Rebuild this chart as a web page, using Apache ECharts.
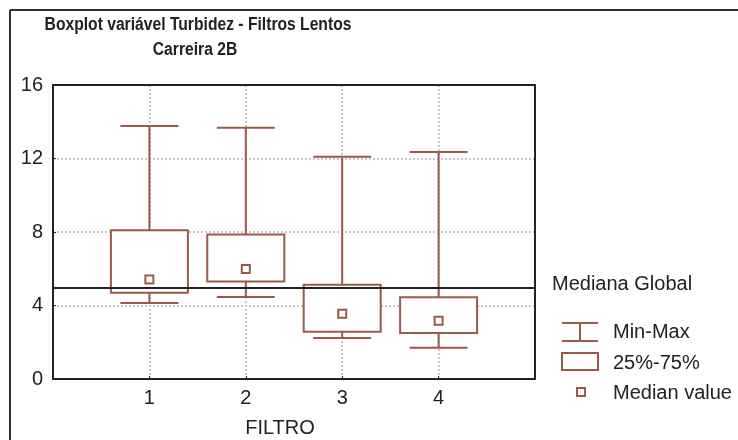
<!DOCTYPE html>
<html><head><meta charset="utf-8">
<script src="https://cdn.jsdelivr.net/npm/echarts@6/dist/echarts.min.js"></script>
<style>html,body{margin:0;padding:0;background:#fff}#c{width:738px;height:440px}</style>
</head><body><div id="c"></div>
<script>
var categories = ['', '1', '2', '3', '4', ''];
var filtros = [1, 2, 3, 4];
var mins = [4.14, 4.46, 2.23, 1.70];
var q1s = [4.70, 5.30, 2.57, 2.50];
var medians = [5.42, 5.99, 3.55, 3.17];
var q3s = [8.09, 7.87, 5.13, 4.45];
var maxs = [13.77, 13.68, 12.10, 12.35];
var globalMedian = 4.94;
var yTicks = [0, 4, 8, 12, 16];

var brown = '#9a5a4a';
var chart = echarts.init(document.getElementById('c'));
var boxData = filtros.map(function (f, i) { return [f, mins[i], q1s[i], medians[i], q3s[i], maxs[i]]; });
var medData = filtros.map(function (f, i) { return [f, medians[i]]; });

function renderBox(params, api) {
  var x = api.value(0);
  var pMin = api.coord([x, api.value(1)]);
  var pQ1 = api.coord([x, api.value(2)]);
  var pQ3 = api.coord([x, api.value(4)]);
  var pMax = api.coord([x, api.value(5)]);
  var bw = 77, cw = 58, cx = pMin[0];
  var st = { stroke: brown, lineWidth: 2, fill: null };
  return { type: 'group', children: [
    { type: 'line', shape: { x1: cx, y1: pMax[1], x2: cx, y2: pQ3[1] }, style: st },
    { type: 'line', shape: { x1: cx, y1: pQ1[1], x2: cx, y2: pMin[1] }, style: st },
    { type: 'line', shape: { x1: cx - cw / 2, y1: pMax[1], x2: cx + cw / 2, y2: pMax[1] }, style: st },
    { type: 'line', shape: { x1: cx - cw / 2, y1: pMin[1], x2: cx + cw / 2, y2: pMin[1] }, style: st },
    { type: 'rect', shape: { x: cx - bw / 2, y: pQ3[1], width: bw, height: pQ1[1] - pQ3[1] }, style: { stroke: brown, lineWidth: 2, fill: '#fff' } }
  ]};
}

var font = 'Liberation Sans, Arial, sans-serif';
var lineOnly = { show: true, onZero: false, lineStyle: { color: '#222', width: 2 } };
var option = {
  animation: false,
  grid: { left: 53, top: 85, right: 203, bottom: 61 },
  xAxis: [{
    type: 'category', data: categories, boundaryGap: false,
    axisLine: { onZero: false, lineStyle: { color: '#222', width: 2 } },
    axisTick: { show: true, inside: true, length: 3, lineStyle: { color: '#222' }, interval: function (i) { return i > 0 && i < 5; } },
    axisLabel: { color: '#222', fontSize: 20, fontFamily: font, margin: 9, interval: 0 },
    splitLine: { show: true, interval: function (i) { return i > 0 && i < 5; }, lineStyle: { color: '#c8c8c8', type: 'dotted', width: 2 } }
  }, {
    type: 'category', data: categories, boundaryGap: false, position: 'top', z: 5,
    axisLine: lineOnly, axisTick: { show: false }, axisLabel: { show: false }, splitLine: { show: false }
  }],
  yAxis: [{
    type: 'value', min: 0, max: 16, interval: 4,
    axisLine: { show: true, onZero: false, lineStyle: { color: '#222', width: 2 } },
    axisTick: { show: true, inside: true, length: 3, lineStyle: { color: '#222' } },
    axisLabel: { color: '#222', fontSize: 20, fontFamily: font, margin: 10,
      formatter: function (v) { return yTicks.indexOf(v) >= 0 ? String(v) : ''; } },
    splitLine: { show: true, lineStyle: { color: '#c8c8c8', type: 'dotted', width: 2 } }
  }, {
    type: 'value', min: 0, max: 16, interval: 4, position: 'right', z: 5,
    axisLine: lineOnly, axisTick: { show: false }, axisLabel: { show: false }, splitLine: { show: false }
  }],
  series: [
    { type: 'custom', renderItem: renderBox, data: boxData, encode: { x: 0, y: [1, 2, 3, 4, 5] }, z: 2,
      markLine: { silent: true, symbol: 'none', label: { show: false }, lineStyle: { color: '#222', width: 2, type: 'solid' }, data: [{ yAxis: globalMedian }] } },
    { type: 'scatter', data: medData, symbol: 'rect', symbolSize: 8, z: 3,
      itemStyle: { color: '#fff', borderColor: brown, borderWidth: 2, opacity: 1 } }
  ],
  graphic: [
    { type: 'line', shape: { x1: 10, y1: 10, x2: 738, y2: 10 }, style: { stroke: '#333', lineWidth: 2 } },
    { type: 'line', shape: { x1: 10, y1: 10, x2: 10, y2: 440 }, style: { stroke: '#333', lineWidth: 2 } },
    { type: 'text', x: 198, y: 25, scaleX: 0.87, style: { text: 'Boxplot variável Turbidez - Filtros Lentos', x: 0, y: 0, textAlign: 'center', textVerticalAlign: 'middle', font: 'bold 18px ' + font, fill: '#222' } },
    { type: 'text', x: 195, y: 50, scaleX: 0.87, style: { text: 'Carreira 2B', x: 0, y: 0, textAlign: 'center', textVerticalAlign: 'middle', font: 'bold 18px ' + font, fill: '#222' } },
    { type: 'text', style: { text: 'FILTRO', x: 280, y: 428, textAlign: 'center', textVerticalAlign: 'middle', font: '20px ' + font, fill: '#222' } },
    { type: 'text', style: { text: 'Mediana Global', x: 552, y: 284, textAlign: 'left', textVerticalAlign: 'middle', font: '20px ' + font, fill: '#222' } },
    { type: 'line', shape: { x1: 562, y1: 323, x2: 598, y2: 323 }, style: { stroke: brown, lineWidth: 2 } },
    { type: 'line', shape: { x1: 562, y1: 341, x2: 598, y2: 341 }, style: { stroke: brown, lineWidth: 2 } },
    { type: 'line', shape: { x1: 580, y1: 323, x2: 580, y2: 341 }, style: { stroke: brown, lineWidth: 2 } },
    { type: 'rect', shape: { x: 562, y: 353, width: 36, height: 17 }, style: { stroke: brown, lineWidth: 2, fill: '#fff' } },
    { type: 'rect', shape: { x: 577, y: 388, width: 8, height: 8 }, style: { stroke: brown, lineWidth: 2, fill: '#fff' } },
    { type: 'text', style: { text: 'Min-Max', x: 613, y: 332, textAlign: 'left', textVerticalAlign: 'middle', font: '20px ' + font, fill: '#222' } },
    { type: 'text', style: { text: '25%-75%', x: 613, y: 363, textAlign: 'left', textVerticalAlign: 'middle', font: '20px ' + font, fill: '#222' } },
    { type: 'text', style: { text: 'Median value', x: 613, y: 393, textAlign: 'left', textVerticalAlign: 'middle', font: '20px ' + font, fill: '#222' } }
  ]
};
chart.setOption(option);
</script></body></html>
